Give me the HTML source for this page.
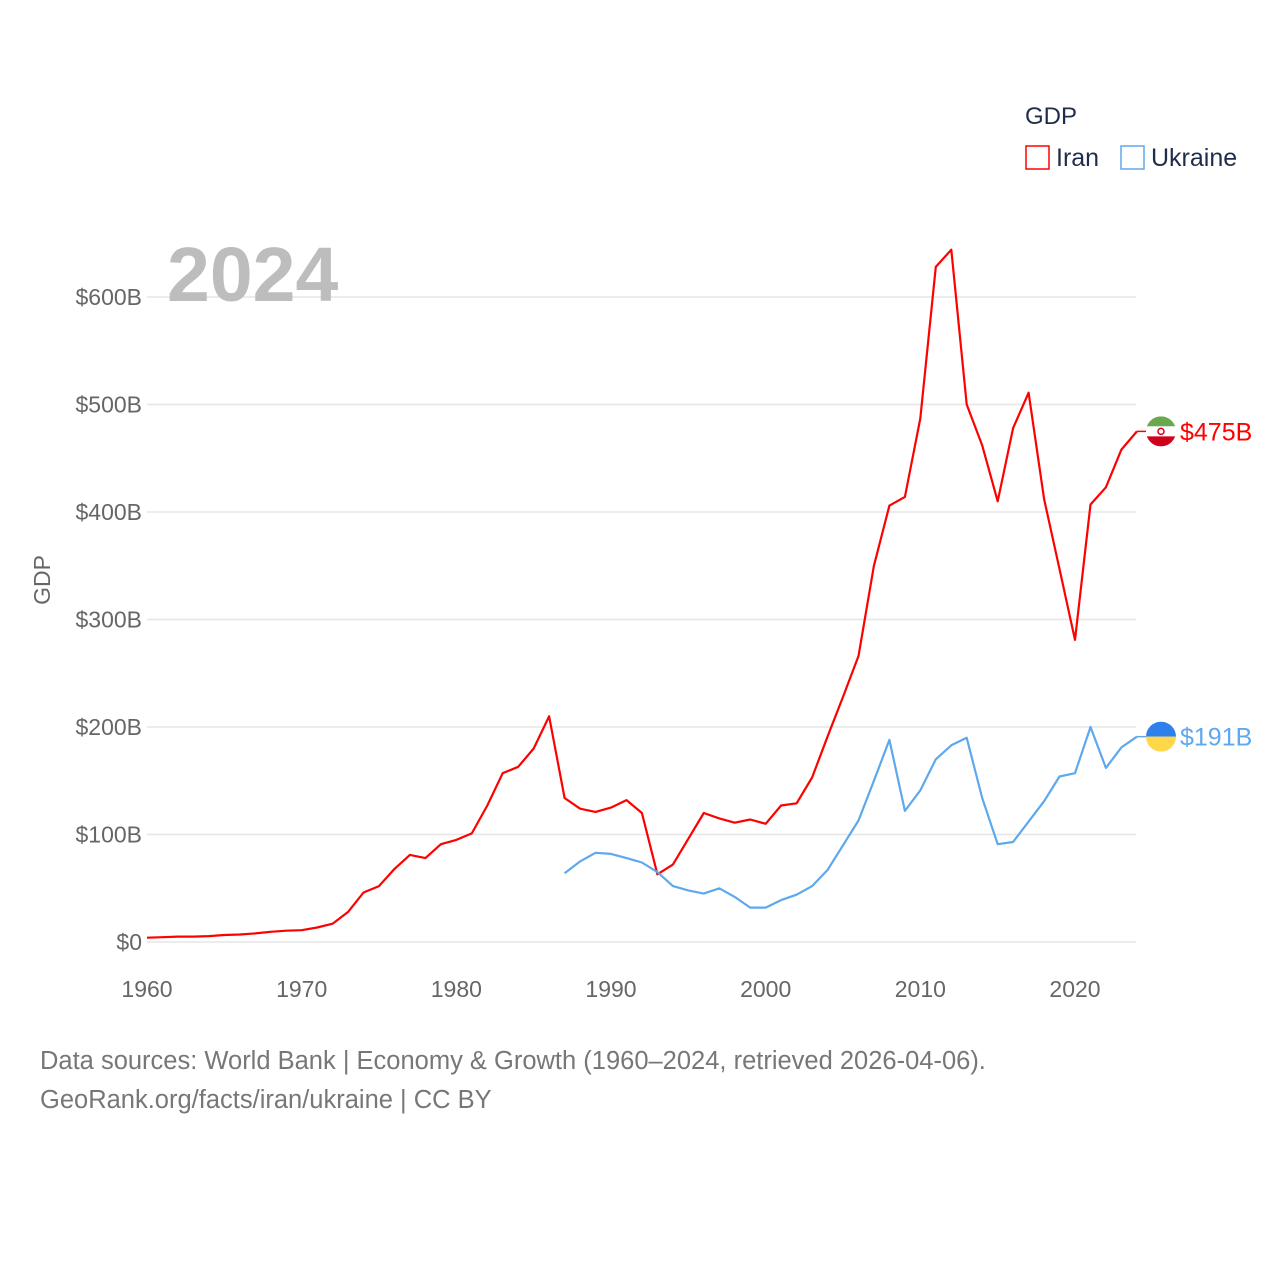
<!DOCTYPE html>
<html><head><meta charset="utf-8">
<style>
body{margin:0;background:#fff;}
svg{display:block;font-family:"Liberation Sans",sans-serif;}
</style></head>
<body>
<svg id="chart" width="1280" height="1280" viewBox="0 0 1280 1280">
  <rect width="1280" height="1280" fill="#fff"/>
  <g id="grid"></g>
  <g id="yticks"></g>
  <g id="xticks"></g>
  <text x="167" y="301" font-size="77" font-weight="bold" fill="#bdbdbd">2024</text>
  <text transform="translate(50,580) rotate(-90)" text-anchor="middle" font-size="23" fill="#666">GDP</text>
  <g id="series"></g>
  <g>
    <text x="1025" y="124" font-size="24" fill="#1f2d4d">GDP</text>
    <g>
      <rect x="1026" y="146" width="23" height="23" fill="none" stroke="#ff0000" stroke-width="1.5"/>
      <text x="1056" y="166" font-size="25" fill="#1f2d4d">Iran</text>
    </g>
    <g>
      <rect x="1121" y="146" width="23" height="23" fill="none" stroke="#5ea8ee" stroke-width="1.5"/>
      <text x="1151" y="166" font-size="25" fill="#1f2d4d">Ukraine</text>
    </g>
  </g>
  <text x="40" y="1069" font-size="25.5" fill="#777">Data sources: World Bank | Economy &amp; Growth (1960–2024, retrieved 2026-04-06).</text>
  <text x="40" y="1108" font-size="25.5" fill="#777">GeoRank.org/facts/iran/ukraine | CC BY</text>
</svg>
<script>
const iranYears=[1960,1961,1962,1963,1964,1965,1966,1967,1968,1969,1970,1971,1972,1973,1974,1975,1976,1977,1978,1979,1980,1981,1982,1983,1984,1985,1986,1987,1988,1989,1990,1991,1992,1993,1994,1995,1996,1997,1998,1999,2000,2001,2002,2003,2004,2005,2006,2007,2008,2009,2010,2011,2012,2013,2014,2015,2016,2017,2018,2019,2020,2021,2022,2023,2024];
const iranGDP=[4,4.5,5,5,5.5,6.5,7,8,9.5,10.5,11,13.5,17,28,46,52,68,81,78,91,95,101,127,157,163,180,210,134,124,121,125,132,120,63,72,96,120,115,111,114,110,127,129,153,191,228,266,350,406,414,487,628,644,500,462,410,478,511,412,347,281,407,423,458,475];
const ukrYears=[1987,1988,1989,1990,1991,1992,1993,1994,1995,1996,1997,1998,1999,2000,2001,2002,2003,2004,2005,2006,2007,2008,2009,2010,2011,2012,2013,2014,2015,2016,2017,2018,2019,2020,2021,2022,2023,2024];
const ukrGDP=[64,75,83,82,78,74,65,52,48,45,50,42,32,32,39,44,52,67,90,113,150,188,122,141,170,183,190,134,91,93,112,131,154,157,200,162,181,191];
const yTicks=[0,100,200,300,400,500,600];
const yTickLabels=["$0","$100B","$200B","$300B","$400B","$500B","$600B"];
const xTicks=[1960,1970,1980,1990,2000,2010,2020];

const NS="http://www.w3.org/2000/svg";
function xS(yr){return 147+(yr-1960)*(1075-147)/60;}
function yS(v){return 942-v*(942-297)/600;}
function mk(tag,attrs,parent){const e=document.createElementNS(NS,tag);for(const k in attrs)e.setAttribute(k,attrs[k]);parent.appendChild(e);return e;}

const grid=document.getElementById('grid'),yt=document.getElementById('yticks'),xt=document.getElementById('xticks'),ser=document.getElementById('series');
yTicks.forEach((v,i)=>{
  const l=mk('line',{x1:147,x2:1136,y1:yS(v),y2:yS(v),stroke:'#e6e6e6','stroke-width':1.5},grid);
  
  
  const t=mk('text',{x:142,y:yS(v)+8,'text-anchor':'end','font-size':23,fill:'#666'},yt);
  t.textContent=yTickLabels[i];
  
  
});
xTicks.forEach(v=>{
  const t=mk('text',{x:xS(v),y:997,'text-anchor':'middle','font-size':23,fill:'#666'},xt);
  t.textContent=v;
  
  
});
function line(years,vals,color,name){
  const d=years.map((y,i)=>(i?'L':'M')+xS(y).toFixed(1)+','+yS(vals[i]).toFixed(1)).join('');
  const p=mk('path',{d:d,fill:'none',stroke:color,'stroke-width':2.2,'stroke-linejoin':'round'},ser);
  
  
}
line(iranYears,iranGDP,'#ff0000','iran-line');
line(ukrYears,ukrGDP,'#5ea8ee','ukraine-line');

function endLabel(vals,color,name,flag){
  const v=vals[vals.length-1],y=yS(v),cx=1161;
  mk('line',{x1:xS(2024),x2:cx-15,y1:y,y2:y,stroke:color,'stroke-width':1.5},ser);
  const g=mk('g',{},ser);
  
  
  const clip=mk('clipPath',{id:'c'+name},g);
  mk('circle',{cx:cx,cy:y,r:15},clip);
  const gg=mk('g',{'clip-path':'url(#c'+name+')'},g);
  if(flag==='ir'){
    mk('rect',{x:cx-15,y:y-15,width:30,height:10,fill:'#6aa84f'},gg);
    mk('rect',{x:cx-15,y:y-5,width:30,height:10,fill:'#fff'},gg);
    mk('rect',{x:cx-15,y:y+5,width:30,height:10,fill:'#d0021b'},gg);
    mk('circle',{cx:cx,cy:y,r:3,fill:'none',stroke:'#d0021b','stroke-width':1.5},gg);
  }else{
    mk('rect',{x:cx-15,y:y-15,width:30,height:15,fill:'#2f80ed'},gg);
    mk('rect',{x:cx-15,y:y,width:30,height:15,fill:'#ffd84a'},gg);
  }
  const t=mk('text',{x:1180,y:y+9,'font-size':25,fill:color},ser);
  t.textContent='$'+v+'B';
  
  
}
endLabel(iranGDP,'#ff0000','iran','ir');
endLabel(ukrGDP,'#5ea8ee','ukraine','ua');
</script>
</body></html>
